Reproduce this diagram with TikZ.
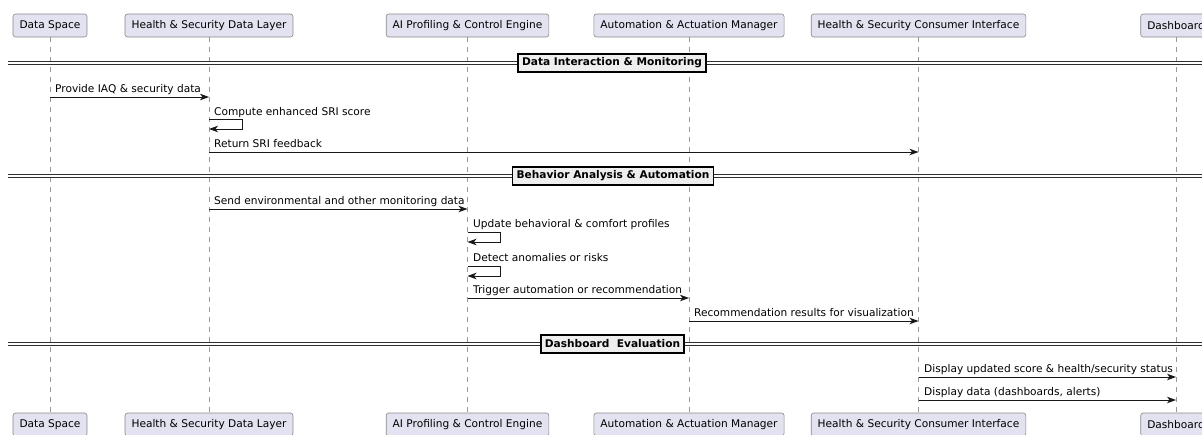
\documentclass[tikz,border=0pt]{standalone}
\usepackage{fontspec}
\setmainfont{DejaVu Sans}
\usetikzlibrary{arrows.meta}
\definecolor{partfill}{HTML}{E2E2F0}
\definecolor{partline}{HTML}{8A8A8A}
\definecolor{sepfill}{HTML}{EEEEEE}
\definecolor{lineclr}{HTML}{181818}
\tikzset{
  part/.style={draw=partline, line width=0.6pt, fill=partfill, rounded corners=2.5pt,
    minimum height=23pt, inner xsep=6.5pt, inner ysep=0pt, font=\fontsize{10.6}{12}\selectfont},
  life/.style={draw=gray!80, line width=0.7pt, dash pattern=on 5pt off 5pt},
  msg/.style={draw=lineclr, line width=0.9pt, -{Stealth[length=9pt,width=6.5pt,inset=2.5pt]}},
  lbl/.style={anchor=base west, inner sep=0pt, font=\fontsize{10.6}{12}\selectfont},
  sepbox/.style={draw=black, line width=1.4pt, fill=sepfill, minimum height=18pt, inner xsep=4pt, inner ysep=0pt,
    font=\fontsize{10.6}{12}\selectfont\bfseries},
  sepline/.style={draw=lineclr!90, line width=0.9pt},
}
\begin{document}
\begin{tikzpicture}[x=1pt,y=-1pt]
\clip (0,0) rectangle (1202,434);
\fill[white] (0,0) rectangle (1202,434);
% participants top
\node[part] (ds) at (50,25.5) {Data Space};
\node[part] (hs) at (209,25.5) {Health \& Security Data Layer};
\node[part] (ai) at (467.5,25.5) {AI Profiling \& Control Engine};
\node[part] (am) at (689,25.5) {Automation \& Actuation Manager};
\node[part] (ci) at (918.5,25.5) {Health \& Security Consumer Interface};
\node[part] (db) at (1176,25.5) {Dashboard};
% participants bottom
\node[part] (dsb) at (50,424.5) {Data Space};
\node[part] (hsb) at (209,424.5) {Health \& Security Data Layer};
\node[part] (aib) at (467.5,424.5) {AI Profiling \& Control Engine};
\node[part] (amb) at (689,424.5) {Automation \& Actuation Manager};
\node[part] (cib) at (918.5,424.5) {Health \& Security Consumer Interface};
\node[part] (dbb) at (1176,424.5) {Dashboard};
% lifelines
\draw[life] (ds.south) -- (dsb.north);
\draw[life] (hs.south) -- (hsb.north);
\draw[life] (ai.south) -- (aib.north);
\draw[life] (am.south) -- (amb.north);
\draw[life] (ci.south) -- (cib.north);
\draw[life] (db.south) -- (dbb.north);
% separators
\foreach \yy in {63,176,344}{
  \draw[sepline] (8,\yy-1.6) -- (1202,\yy-1.6);
  \draw[sepline] (8,\yy+1.6) -- (1202,\yy+1.6);
}
\node[sepbox] (s1) at (612,63) {Data Interaction \& Monitoring};
\node[sepbox] (s2) at (613,176) {Behavior Analysis \& Automation};
\node[sepbox] (s3) at (612.5,344) {Dashboard\ \ Evaluation};
% messages
\draw[msg] (ds |- 0,97) -- (hs |- 0,97);
\node[lbl] (m1) at (55,92) {Provide IAQ \& security data};
\draw[msg] (hs |- 0,119) -- ++(33,0) -- ++(0,10) -- (hs |- 0,129);
\node[lbl] (m2) at (214,115) {Compute enhanced SRI score};
\draw[msg] (hs |- 0,152) -- (ci |- 0,152);
\node[lbl] (m3) at (214,147.5) {Return SRI feedback};
\draw[msg] (hs |- 0,209) -- (ai |- 0,209);
\node[lbl] (m4) at (214,204) {Send environmental and other monitoring data};
\draw[msg] (ai |- 0,232) -- ++(33,0) -- ++(0,10) -- (ai |- 0,242);
\node[lbl] (m5) at (473,227.5) {Update behavioral \& comfort profiles};
\draw[msg] (ai |- 0,266) -- ++(33,0) -- ++(0,10) -- (ai |- 0,276);
\node[lbl] (m6) at (473,261) {Detect anomalies or risks};
\draw[msg] (ai |- 0,298) -- (am |- 0,298);
\node[lbl] (m7) at (473,293) {Trigger automation or recommendation};
\draw[msg] (am |- 0,321) -- (ci |- 0,321);
\node[lbl] (m8) at (694,316) {Recommendation results for visualization};
\draw[msg] (ci |- 0,377) -- (db |- 0,377);
\node[lbl] (m9) at (924,372) {Display updated score \& health/security status};
\draw[msg] (ci |- 0,400) -- (db |- 0,400);
\node[lbl] (m10) at (924,395) {Display data (dashboards, alerts)};
\end{tikzpicture}
\end{document}
